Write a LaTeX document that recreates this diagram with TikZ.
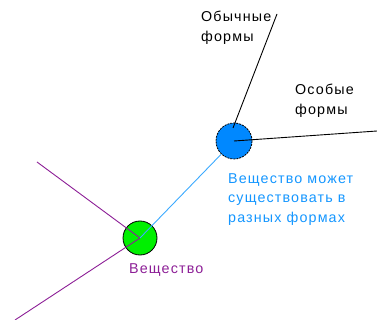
\documentclass[tikz,border=0pt]{standalone}
\usepackage{fontspec}
\setmainfont{Liberation Sans}[LetterSpace=8]
\definecolor{grn}{RGB}{0,240,0}
\definecolor{bcirc}{RGB}{0,136,255}
\definecolor{btext}{RGB}{20,150,255}
\definecolor{bline}{RGB}{60,170,255}
\definecolor{purp}{RGB}{140,30,150}
\tikzset{
  lbl/.style={anchor=north west, inner sep=0pt, align=left, font=\fontsize{14.3}{19.5}\selectfont},
  ball/.style={circle, draw=black, inner sep=0pt, line width=0.8pt}
}
\begin{document}
\begin{tikzpicture}[x=1pt,y=-1pt]
\useasboundingbox (0,0) rectangle (377,320);
\node[ball, fill=grn, minimum size=34pt] (g) at (140,238) {};
\node[ball, fill=bcirc, dashed, dash pattern=on 2pt off 1pt, minimum size=36pt] (b) at (234,141) {};
\coordinate (p1) at (37,162);
\coordinate (p2) at (15,320);
\coordinate (t1) at (277,14);
\coordinate (r1) at (377,131);
\coordinate (btop) at (233,128);
\draw[purp, line width=0.9pt] (p1) -- (g.center);
\draw[purp, line width=0.9pt] (p2) -- (g.center);
\draw[bline, line width=0.9pt] (g.center) -- (b);
\draw[black, line width=0.9pt] (btop) -- (t1);
\draw[black, line width=0.9pt] (b.center) -- (r1);
\node[lbl] (t_ob) at (201,11) {Обычные\\формы};
\node[lbl] (t_os) at (295,84) {Особые\\формы};
\node[lbl, text=btext] (t_v) at (228,173) {Вещество может\\существовать в\\разных формах};
\node[lbl, text=purp] (t_g) at (129,263) {Вещество};
\end{tikzpicture}
\end{document}
